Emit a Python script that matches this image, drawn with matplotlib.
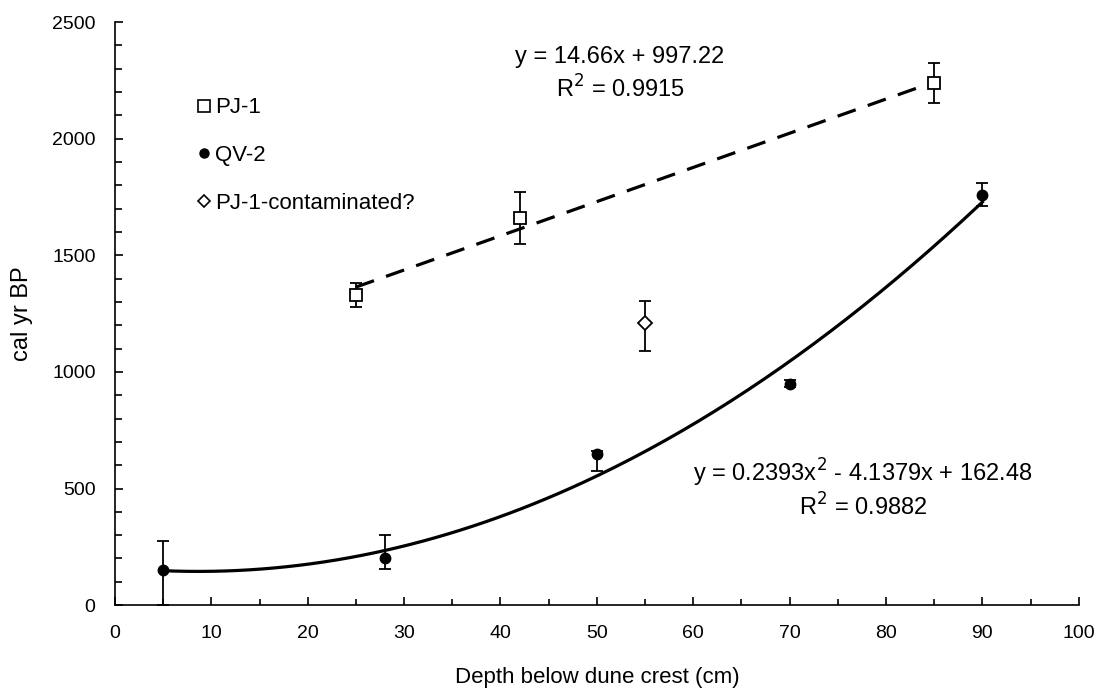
import numpy as np
import matplotlib.pyplot as plt
from matplotlib.ticker import MultipleLocator
from matplotlib.lines import Line2D

plt.rcParams['font.family'] = ['Liberation Sans', 'DejaVu Sans']

# PJ-1
pj_x = [25, 42, 85]
pj_y = [1330, 1660, 2240]
pj_err = [50, 110, 85]

# QV-2
qv_x = [5, 28, 50, 70, 90]
qv_y = [150, 200, 650, 950, 1760]
qv_err_lo = [150, 45, 75, 15, 50]
qv_err_hi = [125, 100, 10, 15, 50]

# PJ-1 contaminated?
pc_x = [55]
pc_y = [1210]
pc_err_lo = [120]
pc_err_hi = [95]

# trend lines as printed on the chart
lin_coef = [14.66, 997.22]
quad_coef = [0.2393, -4.1379, 162.48]

fig = plt.figure(figsize=(10.99, 6.9), dpi=100)
ax = fig.add_axes([0.1046, 0.123, 0.877, 0.845])

xl = np.linspace(min(pj_x), max(pj_x), 50)
ax.plot(xl, np.polyval(lin_coef, xl), color='black', lw=2.3, dashes=(6, 4), zorder=2)
xq = np.linspace(min(qv_x), max(qv_x), 200)
ax.plot(xq, np.polyval(quad_coef, xq), color='black', lw=2.3, zorder=2)

eb = dict(ecolor='black', elinewidth=1.3, capsize=4, capthick=1.3, linestyle='none')
ax.errorbar(pj_x, pj_y, yerr=pj_err, marker='s', ms=8.5, mfc='white', mec='black',
            mew=1.3, zorder=3, **eb)
ax.errorbar(qv_x, qv_y, yerr=[qv_err_lo, qv_err_hi], marker='o', ms=7.5, mfc='black',
            mec='black', zorder=3, **eb)
ax.errorbar(pc_x, pc_y, yerr=[pc_err_lo, pc_err_hi], marker='D', ms=7, mfc='white',
            mec='black', mew=1.3, zorder=3, **eb)

ax.set_xlim(0, 100)
ax.set_ylim(0, 2500)
ax.xaxis.set_major_locator(MultipleLocator(10))
ax.xaxis.set_minor_locator(MultipleLocator(5))
ax.yaxis.set_major_locator(MultipleLocator(500))
ax.yaxis.set_minor_locator(MultipleLocator(100))
ax.tick_params(which='both', direction='in', width=1.2, labelsize=14, colors='black')
ax.tick_params(axis='x', which='major', length=6, pad=14)
ax.tick_params(axis='x', which='minor', length=4)
ax.tick_params(axis='y', which='major', length=6, pad=14)
ax.tick_params(axis='y', which='minor', length=5)
for s in ['top', 'right']:
    ax.spines[s].set_visible(False)
for s in ['left', 'bottom']:
    ax.spines[s].set_linewidth(1.2)

ax.set_xlabel('Depth below dune crest (cm)', fontsize=16, labelpad=18)
ax.set_ylabel('cal yr BP', fontsize=17, labelpad=14)

ax.text(52.4, 2350, 'y = 14.66x + 997.22', ha='center', va='center', fontsize=17)
ax.text(52.4, 2212, 'R$^2$ = 0.9915', ha='center', va='center', fontsize=17)
ax.text(77.6, 566, 'y = 0.2393x$^2$ - 4.1379x + 162.48', ha='center', va='center', fontsize=17)
ax.text(77.6, 420, 'R$^2$ = 0.9882', ha='center', va='center', fontsize=17)

handles = [
    Line2D([], [], ls='none', marker='s', ms=8, mfc='white', mec='black', mew=1.2),
    Line2D([], [], ls='none', marker='o', ms=6.5, mfc='black', mec='black'),
    Line2D([], [], ls='none', marker='D', ms=6, mfc='white', mec='black', mew=1.2),
]
ax.legend(handles, ['PJ-1', 'QV-2', 'PJ-1-contaminated?'], loc='upper left',
          bbox_to_anchor=(0.065, 0.905), frameon=False, fontsize=16,
          handlelength=0.6, handletextpad=0.2, labelspacing=1.2)

fig.savefig('out.png', dpi=100)
